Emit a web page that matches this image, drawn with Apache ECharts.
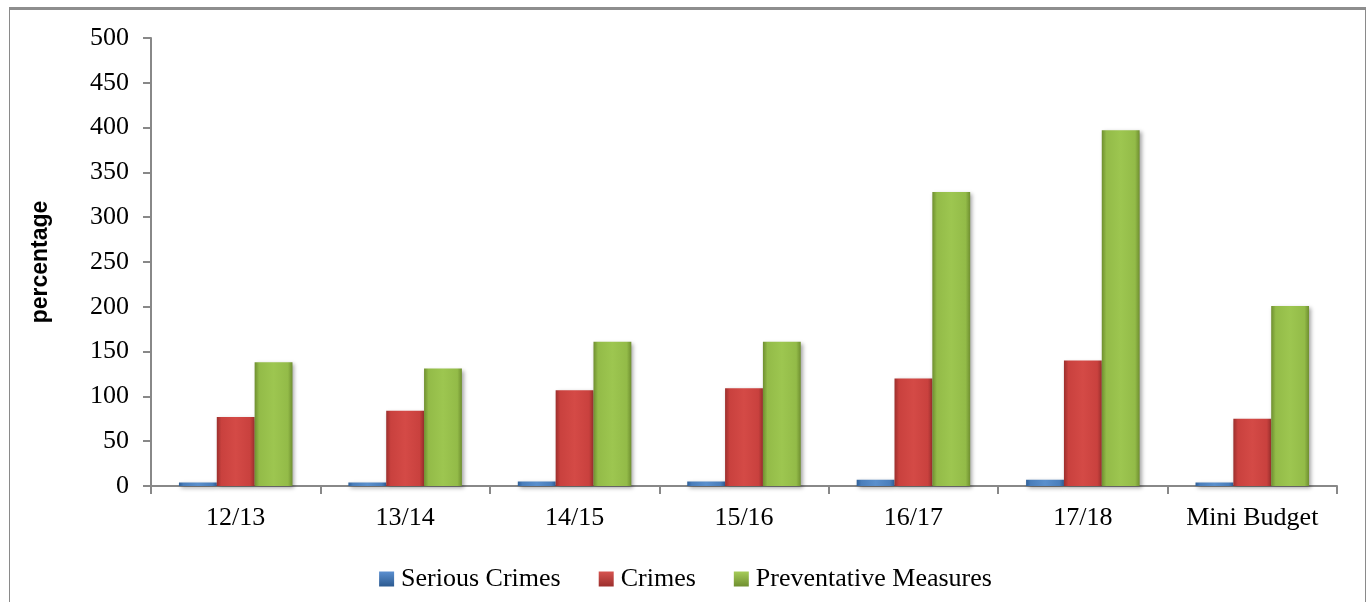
<!DOCTYPE html>
<html>
<head>
<meta charset="utf-8">
<script src="https://cdn.jsdelivr.net/npm/echarts@6/dist/echarts.min.js"></script>
<style>
  html, body { margin: 0; padding: 0; background: #fff; }
  #frame { position: absolute; left: 9px; top: 7px; width: 1357px; height: 700px;
           border-left: 1px solid #8a8a8a; border-right: 1px solid #8a8a8a; border-top: 3px solid #8e8e8e; box-sizing: border-box; }
  #chart { position: absolute; left: 0; top: 0; width: 1371px; height: 602px; }
</style>
</head>
<body>
<div id="frame"></div>
<div id="chart"></div>
<script>
const categories = ['12/13', '13/14', '14/15', '15/16', '16/17', '17/18', 'Mini Budget'];
const seriousCrimes = [4, 4, 5, 5, 7, 7, 4];
const crimes = [77, 84, 107, 109, 120, 140, 75];
const preventativeMeasures = [138, 131, 161, 161, 328, 397, 201];
const yTicks = { min: 0, max: 500, interval: 50 };

function bevel(dark, base, light) {
  return new echarts.graphic.LinearGradient(0, 0, 1, 0, [
    { offset: 0, color: dark },
    { offset: 0.12, color: base },
    { offset: 0.5, color: light },
    { offset: 0.88, color: base },
    { offset: 1, color: dark }
  ]);
}
function legendIcon(dark, light) {
  return new echarts.graphic.LinearGradient(0, 0, 0, 1, [
    { offset: 0, color: light },
    { offset: 1, color: dark }
  ]);
}

const blue = { c: bevel('#2f5f97', '#4a7ebb', '#5a8fcc'), l: legendIcon('#2c5a90', '#5b8fd0') };
const red = { c: bevel('#9c2f2d', '#c9413e', '#d44a46'), l: legendIcon('#9c2f2d', '#d65450') };
const green = { c: bevel('#6f8f30', '#93bb48', '#9dc650'), l: legendIcon('#6f8f30', '#a6cc58') };

const shadow = { shadowBlur: 4, shadowColor: 'rgba(0,0,0,0.35)', shadowOffsetX: 2, shadowOffsetY: 2 };

function mk(name, data, col) {
  return {
    name: name, type: 'bar', data: data,
    barGap: '0%', barCategoryGap: '33%',
    itemStyle: Object.assign({ color: col.c }, shadow),
    emphasis: { disabled: true }
  };
}

const chart = echarts.init(document.getElementById('chart'), null, { renderer: 'canvas' });
chart.setOption({
  animation: false,
  textStyle: { fontFamily: 'Liberation Serif' },
  grid: { left: 151, right: 34, top: 38, bottom: 116, containLabel: false },
  legend: {
    left: 'center', top: 561,
    itemWidth: 15, itemHeight: 15, itemGap: 38,
    icon: 'rect',
    textStyle: { fontFamily: 'Liberation Serif', fontSize: 26, color: '#000', padding: [0, 0, 0, 2] },
    data: [
      { name: 'Serious Crimes', itemStyle: { color: blue.l } },
      { name: 'Crimes', itemStyle: { color: red.l } },
      { name: 'Preventative Measures', itemStyle: { color: green.l } }
    ]
  },
  xAxis: {
    type: 'category', data: categories,
    axisLine: { lineStyle: { color: '#888', width: 2 } },
    axisTick: { show: true, interval: 0, length: 8, lineStyle: { color: '#888', width: 2 } },
    axisLabel: { interval: 0, hideOverlap: false, fontFamily: 'Liberation Serif', fontSize: 26, color: '#000', margin: 19 }
  },
  yAxis: {
    type: 'value', min: yTicks.min, max: yTicks.max, interval: yTicks.interval,
    name: 'percentage', nameLocation: 'middle', nameGap: 99, nameRotate: 90,
    nameTextStyle: { fontFamily: 'Liberation Sans', fontWeight: 'bold', fontSize: 23, color: '#000' },
    axisLine: { show: true, lineStyle: { color: '#888', width: 2 } },
    axisTick: { show: true, length: 8, lineStyle: { color: '#888', width: 2 } },
    splitLine: { show: false },
    axisLabel: { fontFamily: 'Liberation Serif', fontSize: 26, color: '#000', margin: 22 }
  },
  series: [
    mk('Serious Crimes', seriousCrimes, blue),
    mk('Crimes', crimes, red),
    mk('Preventative Measures', preventativeMeasures, green)
  ]
});
</script>
</body>
</html>
